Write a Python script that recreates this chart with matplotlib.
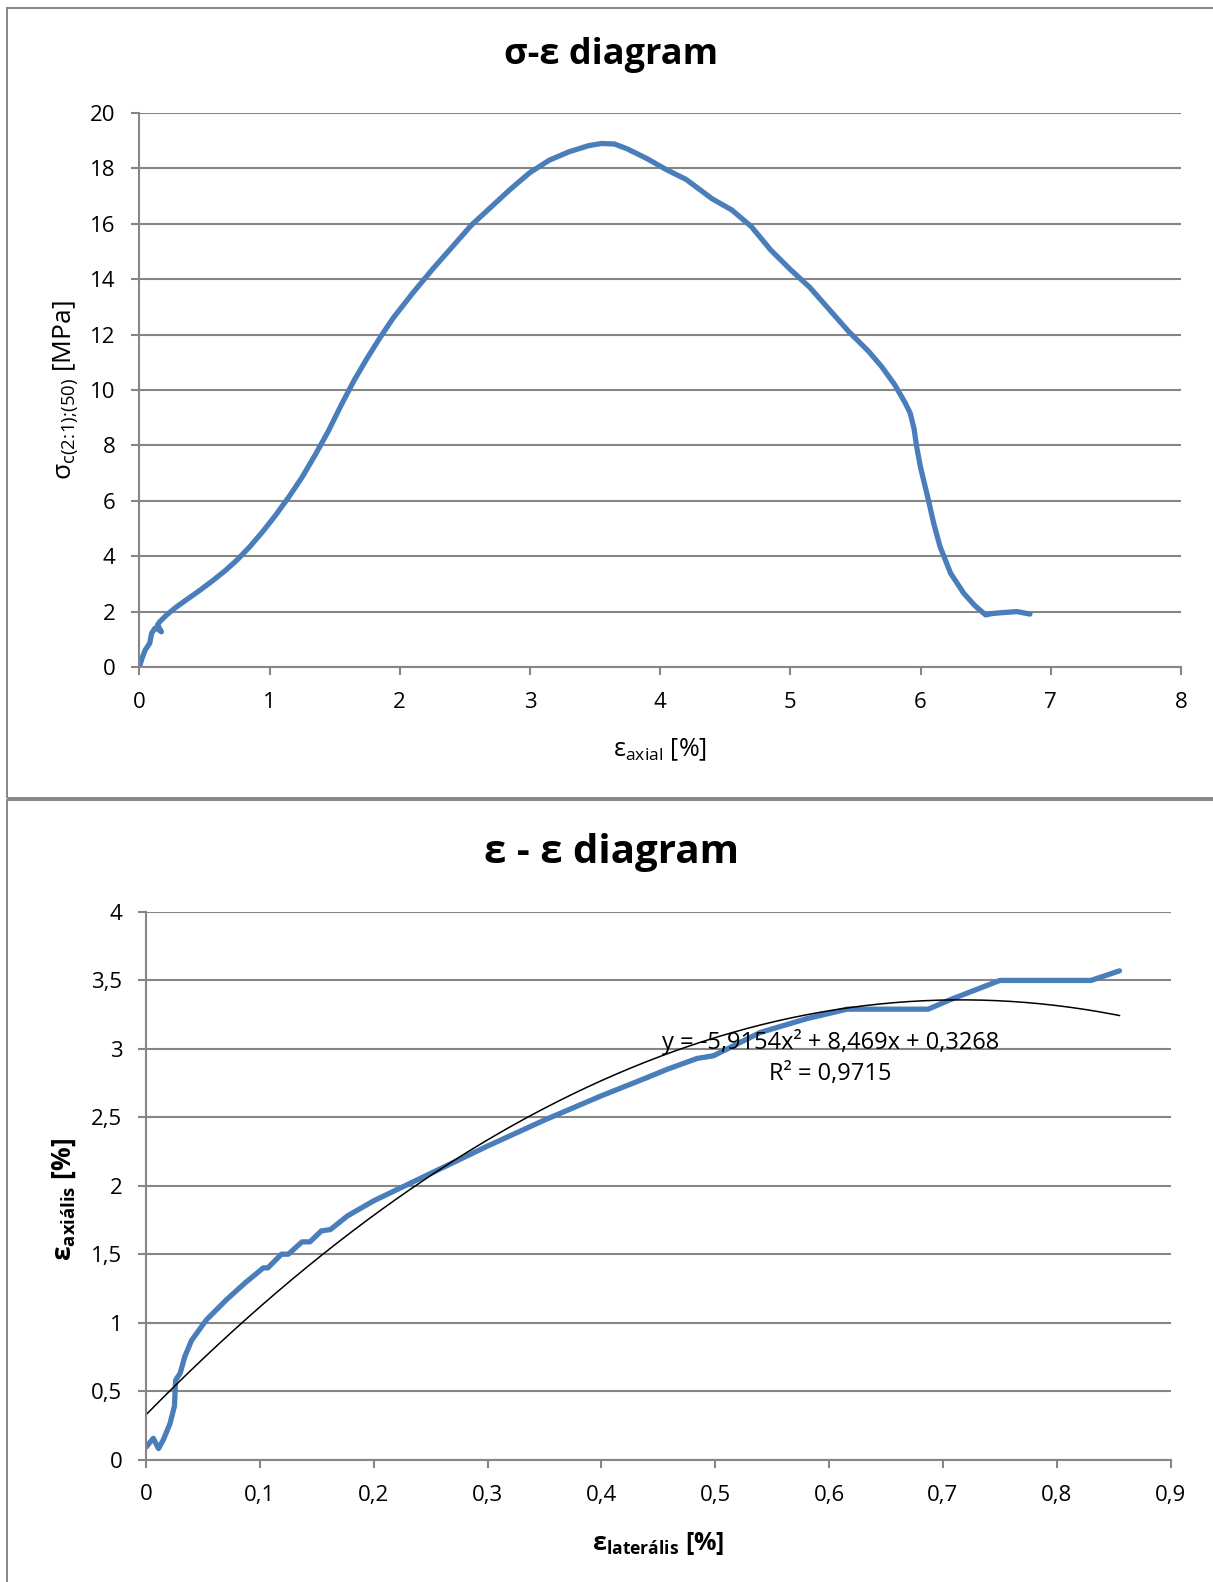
import matplotlib
matplotlib.use("Agg")
import matplotlib.pyplot as plt
from matplotlib.patches import Rectangle
from matplotlib.ticker import FuncFormatter, MultipleLocator
import numpy as np

plt.rcParams['font.family'] = ['Open Sans', 'DejaVu Sans']
plt.rcParams['mathtext.fontset'] = 'custom'
plt.rcParams['mathtext.rm'] = 'Open Sans'
plt.rcParams['mathtext.it'] = 'Open Sans'
plt.rcParams['mathtext.bf'] = 'Open Sans:bold'

# --- sigma-epsilon curve: axial strain [%] vs. compressive stress [MPa]
eps_axial = [0.0, 0.02, 0.045, 0.08, 0.095, 0.12, 0.15, 0.17, 0.14, 0.16,
             0.21, 0.28, 0.36, 0.46, 0.57, 0.66, 0.75, 0.85, 0.95, 1.05,
             1.15, 1.25, 1.35, 1.45, 1.55, 1.65, 1.75, 1.85, 1.95, 2.1,
             2.25, 2.4, 2.55, 2.7, 2.85, 3.0, 3.15, 3.3, 3.45, 3.55,
             3.65, 3.75, 3.9, 4.05, 4.2, 4.3, 4.4, 4.55, 4.7, 4.85,
             5.0, 5.15, 5.3, 5.45, 5.6, 5.7, 5.8, 5.88, 5.92, 5.95,
             5.97, 6.0, 6.06, 6.1, 6.15, 6.23, 6.33, 6.42, 6.5, 6.55,
             6.62, 6.74, 6.84]
sigma_c = [0.0, 0.3, 0.61, 0.86, 1.22, 1.4, 1.35, 1.27, 1.52, 1.65,
           1.88, 2.15, 2.42, 2.75, 3.14, 3.48, 3.86, 4.35, 4.9, 5.5,
           6.15, 6.85, 7.65, 8.5, 9.45, 10.35, 11.15, 11.9, 12.6, 13.5,
           14.35, 15.15, 15.95, 16.6, 17.25, 17.85, 18.3, 18.6, 18.82, 18.9,
           18.88, 18.7, 18.35, 17.95, 17.6, 17.25, 16.9, 16.5, 15.9, 15.05,
           14.35, 13.7, 12.9, 12.1, 11.4, 10.85, 10.2, 9.55, 9.17, 8.6,
           7.95, 7.2, 6.03, 5.2, 4.34, 3.39, 2.67, 2.2, 1.88, 1.93,
           1.96, 2.0, 1.91]

# --- epsilon-epsilon curve: lateral strain [%] vs. axial strain [%]
eps_lateral = [0.0, 0.0064, 0.011, 0.015, 0.021, 0.025, 0.026, 0.030, 0.034, 0.040,
               0.053, 0.071, 0.087, 0.103, 0.107, 0.119, 0.125, 0.137, 0.144, 0.154,
               0.162, 0.177, 0.2, 0.25, 0.3, 0.35, 0.399, 0.44, 0.4575, 0.484,
               0.4985, 0.5395, 0.58, 0.6157, 0.687, 0.7065, 0.75, 0.83, 0.855]
eps_axialis = [0.09, 0.155, 0.08, 0.14, 0.26, 0.39, 0.58, 0.63, 0.75, 0.87,
               1.02, 1.17, 1.29, 1.40, 1.40, 1.50, 1.50, 1.59, 1.59, 1.67,
               1.68, 1.78, 1.89, 2.09, 2.29, 2.48, 2.654, 2.79, 2.85, 2.93,
               2.95, 3.12, 3.22, 3.29, 3.29, 3.36, 3.5, 3.5, 3.57]

# polynomial trendline coefficients (2nd order) and goodness of fit
trend_a, trend_b, trend_c = -5.9154, 8.469, 0.3268
trend_r2 = 0.9715

W, H = 1213, 1582
fig = plt.figure(figsize=(W / 100, H / 100), dpi=100)
fig.patch.set_facecolor('white')

GRID = '#868686'
BLUE = '#4A7EBB'


def fx(px):
    return px / W


def fy(py):
    return 1 - py / H


# chart area frames
for top, bottom in [(8, 798), (800, 1700)]:
    fig.add_artist(Rectangle((fx(7), fy(bottom)), fx(1400), fy(top) - fy(bottom),
                             transform=fig.transFigure, fill=False,
                             edgecolor=GRID, linewidth=1.4, clip_on=False))


def style_axes(ax):
    for s in ['top', 'right']:
        ax.spines[s].set_visible(False)
    for s in ['left', 'bottom']:
        ax.spines[s].set_color(GRID)
        ax.spines[s].set_linewidth(1.5)
    ax.grid(axis='y', color=GRID, linewidth=1.5)
    ax.set_axisbelow(True)
    ax.tick_params(direction='out', length=6, width=1.5, color=GRID,
                   labelsize=16, labelcolor='black')
    ax.tick_params(axis='y', pad=11)
    ax.tick_params(axis='x', pad=12)


def comma(v, pos):
    s = f'{v:.1f}'.rstrip('0').rstrip('.')
    return s.replace('.', ',')


# ---------- top chart ----------
ax1 = fig.add_axes([fx(139.3), fy(667), fx(1181 - 139.3), fy(113) - fy(667)])
style_axes(ax1)
ax1.plot(eps_axial, sigma_c, color=BLUE, linewidth=3.8, solid_capstyle='round',
         solid_joinstyle='round')
ax1.set_xlim(0, 8)
ax1.set_ylim(0, 20)
ax1.xaxis.set_major_locator(MultipleLocator(1))
ax1.yaxis.set_major_locator(MultipleLocator(2))
ax1.set_xlabel(r'$\mathregular{ε_{axial}}$ [%]', fontsize=18)
ax1.set_ylabel(r'$\mathregular{σ_{c(2\!:\!1);\!(50)}}$ [MPa]', fontsize=19)
ax1.xaxis.set_label_coords(0.5, -0.125)
ax1.yaxis.set_label_coords(-0.057, 0.5)
fig.text(fx(611), fy(55), 'σ-ε diagram', ha='center', va='center',
         fontsize=26, fontweight='bold')

# ---------- bottom chart ----------
ax2 = fig.add_axes([fx(146), fy(1459.5), fx(1170.7 - 146), fy(912) - fy(1459.5)])
style_axes(ax2)
ax2.plot(eps_lateral, eps_axialis, color=BLUE, linewidth=3.8,
         solid_capstyle='round', solid_joinstyle='round')
xt = np.linspace(0, max(eps_lateral), 200)
ax2.plot(xt, trend_a * xt ** 2 + trend_b * xt + trend_c, color='black',
         linewidth=1.1)
ax2.set_xlim(0, 0.9)
ax2.set_ylim(0, 4)
ax2.xaxis.set_major_locator(MultipleLocator(0.1))
ax2.yaxis.set_major_locator(MultipleLocator(0.5))
ax2.xaxis.set_major_formatter(FuncFormatter(comma))
ax2.yaxis.set_major_formatter(FuncFormatter(comma))
ax2.set_xlabel(r'$\mathbf{ε_{laterális}}$ [%]', fontsize=18, fontweight='bold')
ax2.set_ylabel(r'$\mathbf{ε_{axiális}}$ [%]', fontsize=19, fontweight='bold')
ax2.xaxis.set_label_coords(0.5, -0.13)
ax2.yaxis.set_label_coords(-0.066, 0.475)

eq = (f'y = {trend_a:.4f}x² + {trend_b:.3f}x + {trend_c:.4f}').replace('.', ',')
ax2.text(0.601, 3.047, eq, ha='center', va='center', fontsize=17)
ax2.text(0.601, 2.82, f'R² = {trend_r2:.4f}'.replace('.', ','),
         ha='center', va='center', fontsize=17)
fig.text(fx(611), fy(852), 'ε - ε diagram', ha='center', va='center',
         fontsize=29, fontweight='bold')

fig.savefig('out.png', dpi=100, facecolor='white')
